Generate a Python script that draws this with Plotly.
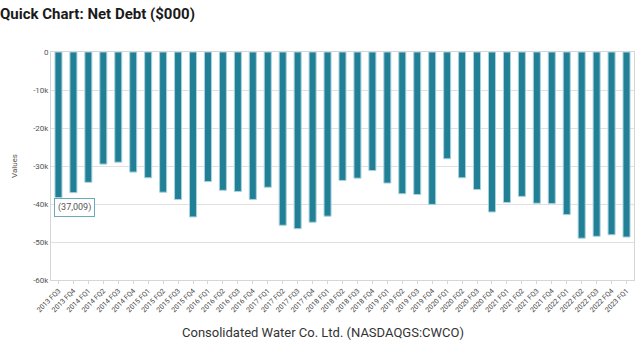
import plotly.graph_objects as go

quarters = ["2013 FQ3", "2013 FQ4"] + [f"{y} FQ{q}" for y in range(2014, 2023) for q in range(1, 5)] + ["2023 FQ1"]
net_debt = [-38300, -37009, -34300, -29500, -29000, -31600, -33100, -36900, -38800, -43400,
            -34100, -36400, -36700, -38800, -35600, -45600, -46500, -44800, -43200,
            -33800, -33200, -31200, -34500, -37300, -37500, -40100, -28100, -33100,
            -36200, -42100, -39600, -38000, -39800, -39900, -42800, -49000, -48500,
            -48100, -48700]
y_ticks = [0, -10000, -20000, -30000, -40000, -50000, -60000]
y_tick_text = ["0", "-10k", "-20k", "-30k", "-40k", "-50k", "-60k"]

teal = "#217f96"

fig = go.Figure(go.Bar(
    x=quarters, y=net_debt,
    marker=dict(color=teal, line=dict(color="#a9d3dd", width=1)),
))

fig.add_annotation(
    x=quarters[1], y=net_debt[1], xref="x", yref="y",
    text="(37,009)", showarrow=False, yanchor="top", yshift=-5, xshift=1,
    font=dict(family="Roboto, Arial", size=9, color="#555555"),
    bgcolor="white", bordercolor="#6aaabb", borderwidth=1, borderpad=3,
)

fig.add_annotation(
    x=0.5, y=0, xref="paper", yref="paper", xanchor="center", yanchor="middle",
    text="Consolidated Water Co. Ltd. (NASDAQGS:CWCO)", showarrow=False,
    xshift=-20, yshift=-52,
    font=dict(family="Roboto, Arial", size=13, color="#333333"),
)

fig.update_layout(
    width=640, height=352,
    margin=dict(l=51, r=6, t=52, b=72),
    paper_bgcolor="white", plot_bgcolor="white",
    bargap=0.53,
    showlegend=False,
    title=dict(text="<b>Quick Chart: Net Debt ($000)</b>", x=0.0, xanchor="left", y=0.96, yanchor="middle",
               font=dict(family="Roboto, Arial", size=15, color="#1a1a1a")),
    font=dict(family="Roboto, Arial"),
)
fig.update_xaxes(
    tickangle=-45, tickfont=dict(size=7, color="#444444"),
    showline=True, linecolor="#d6d6d6", linewidth=1, mirror=True,
    ticks="outside", ticklen=3, tickcolor="#d6d6d6",
)
fig.update_yaxes(
    range=[-60000, 0], tickvals=y_ticks, ticktext=y_tick_text,
    tickfont=dict(size=8, color="#555555"),
    gridcolor="#e0e0e0", zeroline=False,
    showline=True, linecolor="#d6d6d6", linewidth=1, mirror=True,
    title=dict(text="Values", font=dict(size=8, color="#555555"), standoff=14),
)

fig.write_html("out.html")
